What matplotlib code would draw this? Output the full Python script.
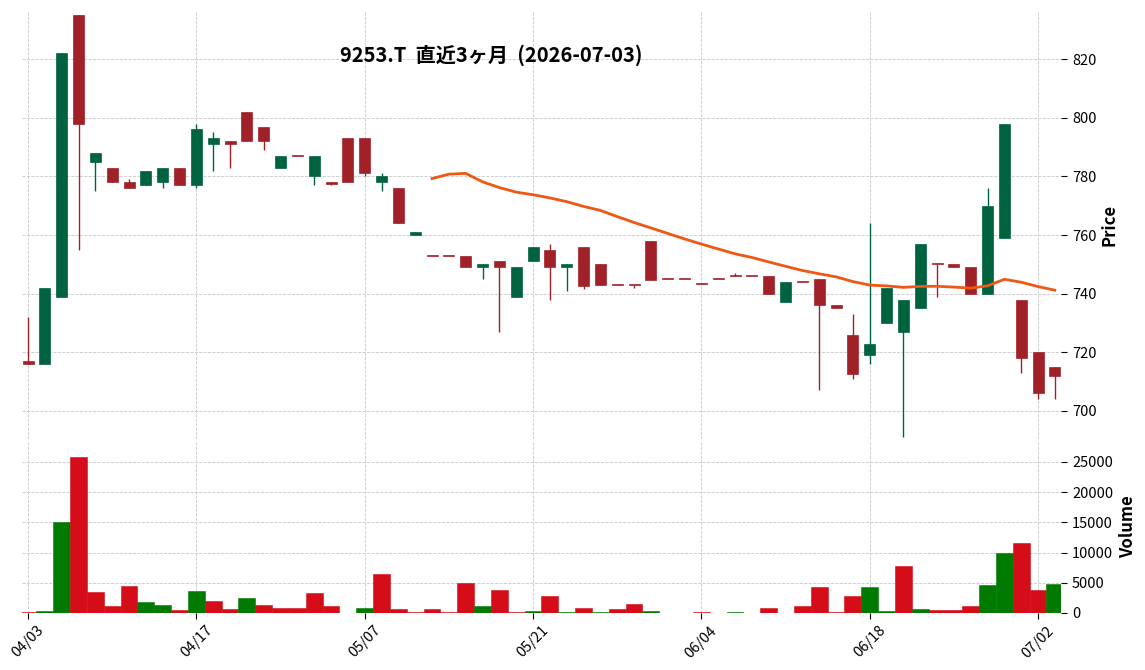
import matplotlib
matplotlib.use("Agg")
import matplotlib.pyplot as plt
import numpy as np
import pandas as pd

plt.rcParams["font.family"] = ["Noto Sans CJK JP", "DejaVu Sans"]

TITLE = "9253.T  直近3ヶ月  (2026-07-03)"

# daily OHLC (62 trading days, 2026-04-03 .. 2026-07-03)
OPENS = [717, 716, 739, 835, 785, 783, 778, 777, 778, 783,
         777, 791, 792, 802, 797, 783, 787, 780, 778, 793,
         793, 778, 776, 760, 753, 753, 753, 749, 751, 739,
         751, 755, 749, 756, 750, 743, 743, 758, 745, 745,
         743.3, 745, 746, 746, 746, 737, 744, 745, 736, 726,
         719, 730, 727, 735, 750, 750, 749, 740, 759, 738,
         720, 715]
HIGHS = [732, 742, 822, 835, 788, 783, 779, 782, 783, 783,
         798, 795, 792, 802, 797, 787, 787, 787, 778, 793,
         793, 781, 776, 761, 753, 753, 753, 750, 751, 749,
         756, 757, 750, 756, 750, 743, 743, 758, 745, 745,
         743.3, 745, 747, 746, 746, 744, 744, 745, 736, 733,
         764, 742, 738, 757, 750, 750, 749, 776, 798, 738,
         720, 715]
LOWS = [716, 716, 739, 755, 775, 778, 776, 777, 776, 777,
        776, 782, 783, 792, 789, 783, 787, 777, 777, 778,
        780, 775, 764, 760, 753, 753, 749, 745, 727, 739,
        751, 738, 741, 741.5, 743, 743, 742, 744.7, 745, 745,
        743.3, 745, 746, 746, 740, 737, 744, 707, 735, 711,
        716, 730, 691, 735, 739, 749, 740, 740, 759, 713,
        704, 704]
CLOSES = [716, 742, 822, 798, 788, 778, 776, 782, 783, 777,
          796, 793, 791, 792, 792, 787, 787, 787, 777.5, 778,
          781, 780, 764, 761, 753, 753, 749, 750, 749, 749,
          756, 749, 750, 742.5, 743, 743, 743, 744.7, 745, 745,
          743.3, 745, 746, 746, 740, 744, 744, 736, 735, 712.6,
          723, 742, 738, 757, 750, 749, 740, 770, 798, 718,
          706, 712]
VOLUMES = [170, 280, 15070, 25870, 3440, 1110, 4430, 1770, 1270, 440,
           3600, 1940, 610, 2440, 1270, 780, 780, 3270, 1110, 0,
           780, 6430, 610, 100, 610, 100, 4930, 1110, 3770, 100,
           280, 2770, 100, 780, 100, 610, 1440, 280, 0, 0,
           100, 0, 100, 0, 780, 0, 1160, 4270, 100, 2770,
           4270, 280, 7760, 610, 440, 440, 1110, 4600, 9920, 11590,
           3770, 4770]
TICK_LABELS = ["04/03", "04/17", "05/07", "05/21", "06/04", "06/18", "07/02"]
MAV = 25

UP, DOWN = "#006340", "#a02128"
VOL_UP, VOL_DOWN = "#007a00", "#d50d18"
MA_COLOR = "#ef5714"
GRID = "#c8c8c8"

df = pd.DataFrame({"open": OPENS, "high": HIGHS, "low": LOWS,
                   "close": CLOSES, "volume": VOLUMES})
x = np.arange(len(df))
ma = df["close"].rolling(MAV).mean()

fig = plt.figure(figsize=(11.45, 6.7), dpi=100)
ax_p = fig.add_axes([0.0192, 0.3448, 0.9074, 0.6388])
ax_v = fig.add_axes([0.0192, 0.0851, 0.9074, 0.2567], sharex=ax_p)

# candles
for i, r in df.iterrows():
    col = UP if r.close > r.open else DOWN
    ax_p.vlines(i, r.low, r.high, color=col, linewidth=1.0, zorder=2)
    bottom = min(r.open, r.close)
    height = max(abs(r.close - r.open), 0.35)
    ax_p.bar(i, height, bottom=bottom, width=0.65, color=col,
             edgecolor=col, linewidth=0.5, zorder=3)

ax_p.plot(x, ma, color=MA_COLOR, linewidth=2.0, zorder=4)

# volume colored by close vs previous close
prev = df["close"].shift(1)
vcols = [VOL_UP if (p == p and c > p) else VOL_DOWN
         for c, p in zip(df["close"], prev)]
ax_v.bar(x, df["volume"], width=1.0, color=vcols, edgecolor=vcols,
         linewidth=0.4, zorder=3)

for ax in (ax_p, ax_v):
    ax.set_facecolor("white")
    ax.grid(True, color=GRID, linestyle="--", linewidth=0.6, zorder=0)
    for s in ax.spines.values():
        s.set_visible(False)
    ax.yaxis.tick_right()
    ax.yaxis.set_label_position("right")
    ax.tick_params(axis="y", length=4, labelsize=10.5, pad=4)

ax_p.set_xlim(-0.36, 61.36)
ax_p.set_ylim(690.45, 836.4)
ax_p.set_yticks(np.arange(700, 821, 20))
ax_p.tick_params(axis="x", length=0, labelbottom=False)
ax_p.set_ylabel("Price", fontsize=12, fontweight="bold", labelpad=3)

ax_v.set_ylim(0, max(VOLUMES) * 1.1)
ax_v.set_yticks(np.arange(0, 25001, 5000))
ax_v.set_xticks(np.arange(0, len(df), 10))
ax_v.set_xticklabels(TICK_LABELS, rotation=45, fontsize=10.5)
ax_v.tick_params(axis="x", length=4)
ax_v.set_ylabel("Volume", fontsize=12, fontweight="bold", labelpad=4)

fig.text(0.4288, 0.918, TITLE, ha="center", va="center",
         fontsize=14.5, fontweight="bold")

fig.savefig("out.png", dpi=100)
